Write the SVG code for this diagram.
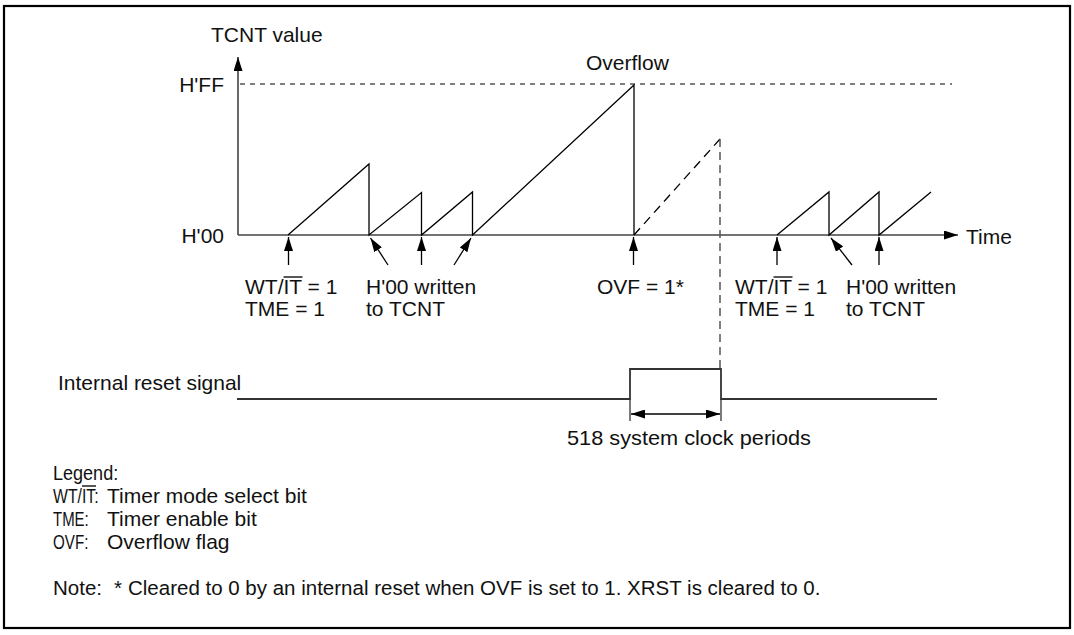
<svg xmlns="http://www.w3.org/2000/svg" width="1074" height="635" viewBox="0 0 1074 635">
<defs>
<style>
text{font-family:"Liberation Sans",Arial,sans-serif;font-size:21px;fill:#111}
.ax{stroke:#444;stroke-width:1.6;fill:none}
.saw{stroke:#000;stroke-width:1.3;fill:none}
.ptr{stroke:#000;stroke-width:1.3;fill:none}
.ovl{stroke:#111;stroke-width:1.4}
.note{font-size:20.5px}
.desc{font-size:21px}
</style>
<marker id="ah" markerUnits="userSpaceOnUse" markerWidth="15" markerHeight="9" refX="14" refY="4.5" orient="auto">
<path d="M0,0 L14,4.5 L0,9 z" fill="#000"/>
</marker>
<marker id="ahs" markerUnits="userSpaceOnUse" markerWidth="15" markerHeight="9" refX="0" refY="4.5" orient="auto">
<path d="M14,0 L0,4.5 L14,9 z" fill="#000"/>
</marker>
</defs>
<rect x="4" y="6" width="1066" height="622" fill="#fff" stroke="#000" stroke-width="2.2"/>

<g id="axes">
<line class="ax" x1="238" y1="235" x2="238" y2="57" marker-end="url(#ah)"/>
<line class="ax" x1="238" y1="235" x2="958" y2="235" marker-end="url(#ah)"/>
<line x1="240" y1="84" x2="952" y2="84" stroke="#000" stroke-width="1" stroke-dasharray="5,5"/>
<text x="211" y="42">TCNT value</text>
<text x="224" y="92" text-anchor="end">H'FF</text>
<text x="224" y="243" text-anchor="end">H'00</text>
<text x="966" y="244">Time</text>
<text x="586" y="70">Overflow</text>
</g>

<g id="sawtooth">
<polyline class="saw" points="288,235 369,164 369,235 421.5,192.5 421.5,235 472.5,192 472.5,235 634,85 634,235"/>
<line x1="634" y1="235" x2="720" y2="139" stroke="#000" stroke-width="1.3" stroke-dasharray="9,6"/>
<line x1="720" y1="139" x2="720" y2="369" stroke="#555" stroke-width="1.5" stroke-dasharray="8,5"/>
<polyline class="saw" points="777,235 829,192 829,235 879,192 879,235 931,192"/>
</g>

<g id="connectors">
<line class="ptr" x1="288.5" y1="265" x2="288.5" y2="237" marker-end="url(#ah)"/>
<line class="ptr" x1="388" y1="265" x2="370.5" y2="238" marker-end="url(#ah)"/>
<line class="ptr" x1="421.5" y1="265" x2="421.5" y2="237" marker-end="url(#ah)"/>
<line class="ptr" x1="454" y1="265" x2="471" y2="238" marker-end="url(#ah)"/>
<line class="ptr" x1="633.5" y1="265" x2="633.5" y2="237" marker-end="url(#ah)"/>
<line class="ptr" x1="777" y1="265" x2="777" y2="237" marker-end="url(#ah)"/>
<line class="ptr" x1="852" y1="265" x2="831" y2="238" marker-end="url(#ah)"/>
<line class="ptr" x1="879" y1="265" x2="879" y2="237" marker-end="url(#ah)"/>
</g>

<g id="labels">
<text x="245" y="294">WT/IT = 1</text>
<line class="ovl" x1="283.5" y1="277" x2="302.5" y2="277"/>
<text x="245" y="316">TME = 1</text>
<text x="366" y="294">H'00 written</text>
<text x="366" y="316">to TCNT</text>
<text x="597" y="294">OVF = 1*</text>
<text x="735" y="294">WT/IT = 1</text>
<line class="ovl" x1="773.5" y1="277" x2="792.5" y2="277"/>
<text x="735" y="316">TME = 1</text>
<text x="846" y="294">H'00 written</text>
<text x="846" y="316">to TCNT</text>
</g>

<g id="reset">
<text x="58" y="390">Internal reset signal</text>
<polyline points="237,399 630,399 630,369 721,369 721,399 937,399" fill="none" stroke="#333" stroke-width="1.8"/>
<line x1="630" y1="399" x2="630" y2="421" stroke="#333" stroke-width="1.3"/>
<line x1="721" y1="399" x2="721" y2="421" stroke="#333" stroke-width="1.3"/>
<line x1="631" y1="414" x2="720" y2="414" stroke="#000" stroke-width="1.3" marker-start="url(#ahs)" marker-end="url(#ah)"/>
<text x="567" y="445" textLength="244" lengthAdjust="spacingAndGlyphs">518 system clock periods</text>
</g>

<g id="legend">
<text class="note" transform="translate(53,480) scale(0.88,1)">Legend:</text>
<text class="note" transform="translate(53,503) scale(0.77,1)">WT/IT:</text>
<line class="ovl" x1="82" y1="486" x2="96" y2="486"/>
<text x="107" y="503" class="desc">Timer mode select bit</text>
<text class="note" transform="translate(53,526) scale(0.73,1)">TME:</text>
<text x="107" y="526" class="desc">Timer enable bit</text>
<text class="note" transform="translate(53,549) scale(0.74,1)">OVF:</text>
<text x="107" y="549" class="desc">Overflow flag</text>
<text x="53" y="595" class="note">Note:</text>
<text x="114" y="595" class="note">*</text>
<text x="128" y="595" class="note">Cleared to 0 by an internal reset when OVF is set to 1. XRST is cleared to 0.</text>
</g>
</svg>
